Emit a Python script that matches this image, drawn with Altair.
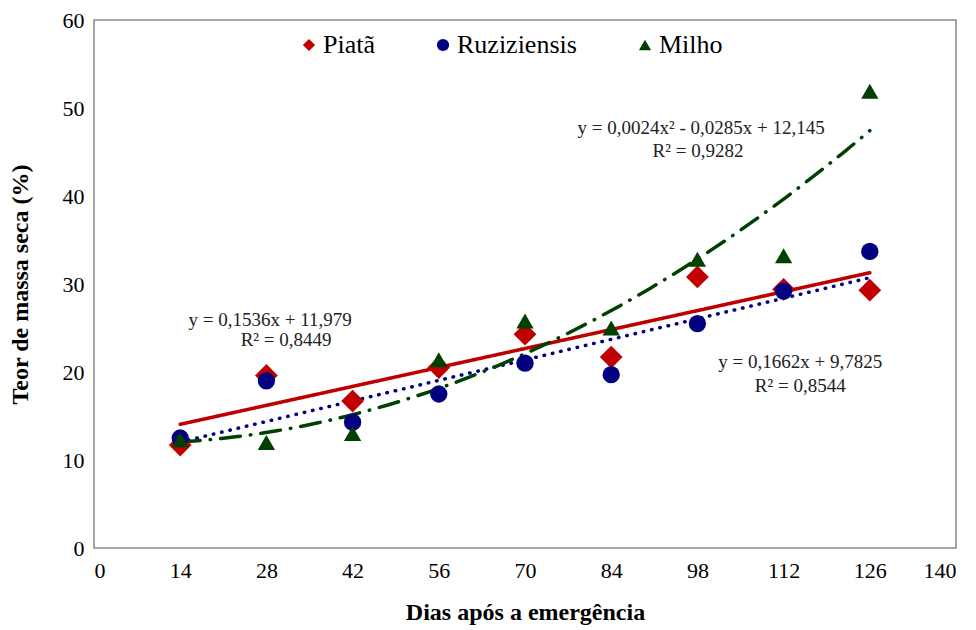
import altair as alt
import pandas as pd

days = [14, 28, 42, 56, 70, 84, 98, 112, 126]
piata = [11.7, 19.6, 16.7, 20.5, 24.3, 21.7, 30.8, 29.4, 29.3]
ruziziensis = [12.5, 19.0, 14.3, 17.5, 21.0, 19.7, 25.5, 29.2, 33.7]
milho = [12.3, 12.0, 13.0, 21.4, 25.8, 25.0, 32.8, 33.2, 51.9]

series = ["Piatã", "Ruziziensis", "Milho"]
colors = ["#C00000", "#000080", "#004000"]
shapes = ["diamond", "circle", "triangle-up"]

x_ticks = [0, 14, 28, 42, 56, 70, 84, 98, 112, 126, 140]
y_ticks = [0, 10, 20, 30, 40, 50, 60]

ann_text = ["y = 0,1536x + 11,979", "R² = 0,8449",
            "y = 0,0024x² - 0,0285x + 12,145", "R² = 0,9282",
            "y = 0,1662x + 9,7825", "R² = 0,8544"]
ann_x = [28.6, 31.2, 98.6, 98.1, 114.7, 114.7]
ann_y = [25.9, 23.6, 47.7, 45.1, 21.1, 18.4]

rows = []
for name, vals in zip(series, [piata, ruziziensis, milho]):
    for d, v in zip(days, vals):
        rows.append({"dia": d, "teor": v, "serie": name})
df = pd.DataFrame(rows)
ann = pd.DataFrame({"x": ann_x, "y": ann_y, "t": ann_text})

FONT = "Liberation Serif"

xs = alt.Scale(domain=[0, 140], nice=False, zero=False)
ys = alt.Scale(domain=[0, 60], nice=False)

leg = alt.Legend(title=None, orient="none", direction="horizontal",
                 legendX=202, legendY=12,
                 labelFont=FONT, labelFontSize=26, labelColor="#000",
                 symbolSize=150, columnPadding=55,
                 labelOffset=1, symbolStrokeWidth=0)

xenc = alt.X("dia:Q", scale=xs,
             axis=alt.Axis(values=x_ticks, title="Dias após a emergência",
                           grid=False, domain=False, ticks=False,
                           labelPadding=12, titlePadding=19,
                           labelFontSize=22, titleFontSize=24,
                           labelFont=FONT, titleFont=FONT,
                           titleFontWeight="bold", labelColor="#000",
                           titleColor="#000"))
yenc = alt.Y("teor:Q", scale=ys,
             axis=alt.Axis(values=y_ticks, title="Teor de massa seca (%)",
                           grid=False, domain=False, ticks=False,
                           labelPadding=10, titlePadding=30,
                           labelFontSize=22, titleFontSize=24,
                           labelFont=FONT, titleFont=FONT,
                           titleFontWeight="bold", labelColor="#000",
                           titleColor="#000"))
cenc = alt.Color("serie:N", scale=alt.Scale(domain=series, range=colors), legend=leg)
senc = alt.Shape("serie:N", scale=alt.Scale(domain=series, range=shapes), legend=leg)

pts_diamond = alt.Chart(df).transform_filter(alt.datum.serie == "Piatã").mark_point(
    filled=True, opacity=1, size=520).encode(x=xenc, y=yenc, color=cenc, shape=senc)
pts_other = alt.Chart(df).transform_filter(alt.datum.serie != "Piatã").mark_point(
    filled=True, opacity=1, size=300).encode(x=xenc, y=yenc, color=cenc, shape=senc)

def trend(name, color, dash, method, order=None):
    kw = {"method": method}
    if order is not None:
        kw["order"] = order
    return alt.Chart(df).transform_filter(
        alt.datum.serie == name
    ).transform_regression("dia", "teor", **kw).mark_line(
        color=color, strokeWidth=3.5, strokeDash=dash, strokeCap="round"
    ).encode(x=alt.X("dia:Q", scale=xs), y=alt.Y("teor:Q", scale=ys))

l1 = trend("Piatã", colors[0], [1, 0], "linear")
l2 = trend("Ruziziensis", colors[1], [0.5, 8], "linear")
l3 = trend("Milho", colors[2], [20, 10, 0.5, 10], "poly", order=2)

text = alt.Chart(ann).mark_text(font=FONT, fontSize=19, color="#222", align="center",
                                baseline="middle").encode(
    x=alt.X("x:Q", scale=xs), y=alt.Y("y:Q", scale=ys), text="t:N")

chart = alt.layer(l1, l2, l3, pts_diamond, pts_other, text).properties(
    width=862, height=528, padding={"left": 0, "top": 1, "right": 5, "bottom": 5}
).configure(background="white").configure_view(
    stroke="#8a8a8a", strokeWidth=1.5
)

chart.save("out.html", embed_options={"renderer": "svg", "actions": False})
